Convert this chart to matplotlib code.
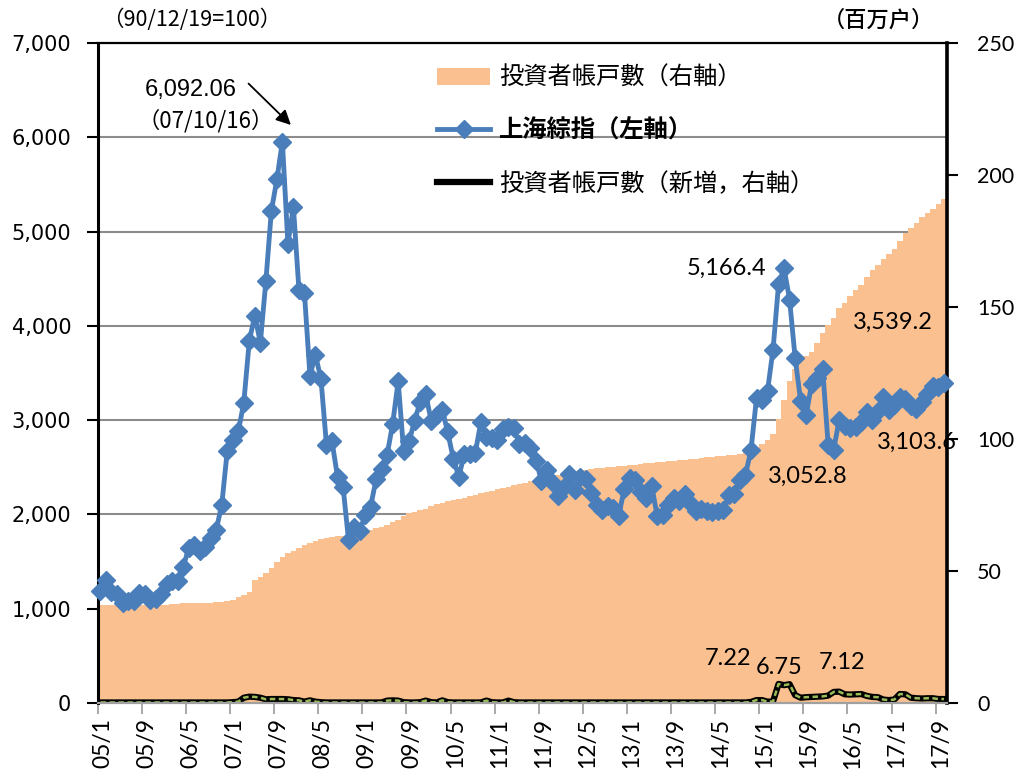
import numpy as np
import matplotlib.pyplot as plt
import matplotlib.transforms as mtransforms
from matplotlib.lines import Line2D
from matplotlib.patches import Patch
from matplotlib.ticker import FuncFormatter

CJK = ['Noto Sans CJK JP', 'DejaVu Sans']

# ---- monthly data, 2005/1 .. 2017/10 ----
# investor accounts, million (right axis)
accounts = [
    37.0, 37.0, 37.1, 37.1, 37.1, 37.1, 37.1, 37.1, 37.2, 37.2, 37.2, 37.3,
    37.3, 37.4, 37.5, 37.7, 37.8, 37.8, 37.9, 37.9, 38.0, 38.1, 38.2, 38.5,
    39.0, 40.0, 41.0, 42.0, 46.6, 47.8, 49.4, 51.0, 53.5, 55.4, 56.7, 57.7,
    58.8, 59.8, 60.5, 61.2, 62.0, 62.6, 63.0, 63.2, 63.4, 63.6, 63.8, 64.2,
    64.8, 65.5, 66.2, 66.8, 67.5, 68.5, 69.5, 71.0, 71.8, 72.3, 73.0, 73.6,
    74.5, 75.2, 75.8, 76.4, 76.9, 77.3, 77.8, 78.3, 78.9, 79.4, 79.9, 80.4,
    80.9, 81.4, 82.0, 82.5, 83.0, 83.5, 84.0, 84.5, 85.0, 85.5, 86.0, 86.5,
    87.0, 87.4, 87.8, 88.1, 88.4, 88.7, 88.9, 89.1, 89.3, 89.5, 89.7, 89.9,
    90.1, 90.3, 90.5, 90.8, 91.0, 91.2, 91.4, 91.6, 91.8, 92.0, 92.2, 92.4,
    92.6, 92.8, 93.0, 93.2, 93.4, 93.6, 93.8, 94.1, 94.5, 95.0, 95.8, 96.8,
    98.0, 99.5, 102.0, 107.5, 114.8, 122.0, 126.5, 130.0, 131.5, 133.0, 136.5, 140.0,
    143.0, 146.0, 149.5, 151.5, 154.0, 156.5, 158.5, 161.5, 164.0, 166.0, 168.0, 170.0,
    172.0, 175.0, 178.0, 180.0, 182.0, 184.0, 185.5, 187.0, 189.0, 191.0,
]

# new investor accounts, million (right axis)
new_accounts = [
    0.2, 0.2, 0.2, 0.2, 0.2, 0.2, 0.2, 0.2, 0.2, 0.2, 0.2, 0.2,
    0.2, 0.2, 0.2, 0.2, 0.2, 0.2, 0.2, 0.2, 0.2, 0.2, 0.2, 0.2,
    0.3, 0.5, 2.0, 2.4, 2.3, 2.0, 1.4, 1.5, 1.5, 1.5, 1.4, 1.1,
    1.0, 0.5, 1.0, 0.5, 0.3, 0.2, 0.2, 0.2, 0.2, 0.2, 0.2, 0.2,
    0.2, 0.2, 0.2, 0.2, 0.9, 1.0, 0.9, 0.3, 0.2, 0.2, 0.3, 0.9,
    0.3, 0.2, 1.0, 0.3, 0.2, 0.2, 0.2, 0.2, 0.2, 0.2, 0.9, 0.3,
    0.2, 0.2, 0.9, 0.3, 0.2, 0.2, 0.2, 0.2, 0.2, 0.2, 0.2, 0.2,
    0.2, 0.2, 0.2, 0.2, 0.2, 0.2, 0.2, 0.2, 0.2, 0.2, 0.2, 0.2,
    0.2, 0.2, 0.2, 0.2, 0.2, 0.2, 0.2, 0.2, 0.2, 0.2, 0.2, 0.2,
    0.2, 0.2, 0.2, 0.2, 0.2, 0.2, 0.2, 0.2, 0.2, 0.2, 0.4, 1.1,
    1.1, 0.5, 0.6, 7.22, 6.75, 7.12, 3.0, 2.0, 2.2, 2.3, 2.4, 2.5,
    2.8, 4.2, 4.3, 3.3, 3.2, 3.3, 3.4, 2.7, 2.3, 2.2, 1.3, 1.1,
    1.3, 3.4, 3.3, 2.0, 1.8, 1.7, 1.8, 1.8, 1.5, 1.5,
]

# Shanghai composite, month-end close (left axis)
sse_close = [
    1191.8, 1306.0, 1181.2, 1159.2, 1060.7, 1080.9, 1083.0, 1162.8, 1155.6, 1092.8, 1099.3, 1161.1,
    1258.0, 1299.0, 1298.3, 1440.2, 1641.3, 1672.2, 1612.7, 1658.6, 1752.4, 1837.9, 2099.3, 2675.5,
    2786.3, 2881.1, 3183.9, 3841.3, 4109.7, 3820.7, 4471.0, 5218.8, 5552.3, 5954.8, 4871.8, 5261.6,
    4383.4, 4348.5, 3472.7, 3693.1, 3433.4, 2736.1, 2775.7, 2397.4, 2293.8, 1728.8, 1871.2, 1820.8,
    1990.7, 2082.9, 2373.2, 2477.6, 2632.9, 2959.4, 3412.1, 2667.7, 2779.4, 2995.9, 3195.3, 3277.1,
    2989.3, 3051.9, 3109.1, 2870.6, 2592.1, 2398.4, 2637.5, 2638.8, 2655.7, 2978.8, 2820.2, 2808.1,
    2790.7, 2905.1, 2928.1, 2911.5, 2743.5, 2762.1, 2701.7, 2567.3, 2359.2, 2468.3, 2333.4, 2199.4,
    2292.6, 2428.5, 2262.8, 2396.3, 2372.2, 2225.4, 2103.6, 2047.5, 2086.2, 2068.9, 1980.1, 2269.1,
    2385.4, 2365.6, 2236.6, 2177.9, 2300.6, 1979.2, 1993.8, 2098.4, 2174.7, 2141.6, 2220.5, 2116.0,
    2033.1, 2056.3, 2033.3, 2026.4, 2039.2, 2048.3, 2201.6, 2217.2, 2363.9, 2420.2, 2682.8, 3234.7,
    3210.4, 3310.3, 3747.9, 4441.7, 4611.7, 4277.2, 3663.7, 3206.0, 3052.8, 3382.6, 3445.4, 3539.2,
    2737.6, 2688.0, 3003.9, 2938.3, 2916.6, 2929.6, 2979.3, 3085.5, 3004.7, 3100.5, 3250.0, 3103.6,
    3159.2, 3241.7, 3222.5, 3154.7, 3117.2, 3192.4, 3273.0, 3360.8, 3348.9, 3393.3,
]

tick_labels = ["05/1", "05/9", "06/5", "07/1", "07/9", "08/5", "09/1", "09/9", "10/5", "11/1",
               "11/9", "12/5", "13/1", "13/9", "14/5", "15/1", "15/9", "16/5", "17/1", "17/9"]

n = len(accounts)
month = np.arange(n)

fig = plt.figure(figsize=(10.33, 7.78), dpi=100)
ax = fig.add_axes([97.7 / 1033, 75 / 778, 849 / 1033, 660 / 778])

# left axis: scale, grid and ticks only
ax.set_xlim(0, n)
ax.set_ylim(0, 7000)
ax.set_yticks(np.arange(0, 7001, 1000))
ax.yaxis.set_major_formatter(FuncFormatter(lambda v, p: f"{v:,.0f}"))
ax.grid(axis='y', color='#8c8c8c', lw=1.5)
ax.set_xticks(month[::8])
ax.set_xticklabels(tick_labels, rotation=90, fontsize=16.5, family='Lato')
ax.tick_params(axis='x', length=8, width=1.2, color='#9a9a9a', pad=3)
ax.tick_params(axis='y', length=8, width=1.5, color='black', pad=11)
shift = mtransforms.ScaledTranslation(5 / 100, 0, fig.dpi_scale_trans)
for lab in ax.get_xticklabels():
    lab.set_transform(lab.get_transform() + shift)
for lab in ax.get_yticklabels():
    lab.set_fontfamily('DejaVu Sans')
    lab.set_fontsize(15)
for s in ax.spines.values():
    s.set_visible(False)

# right axis: accounts (area) and new accounts (line)
axr = ax.twinx()
axr.set_ylim(0, 250)
axr.set_yticks(range(0, 251, 50))
axr.tick_params(axis='y', length=8, width=1.5, color='black', pad=14)
for lab in axr.get_yticklabels():
    lab.set_fontfamily('Lato')
    lab.set_fontsize(15.5)
for s in axr.spines.values():
    s.set_visible(False)
axr.stairs(accounts, np.arange(n + 1), fill=True, color='#FAC090', lw=0)
axr.plot(month + 0.5, new_accounts, color='black', lw=4.5)
axr.plot(month + 0.5, new_accounts, color='#9BBB59', lw=1.8, ls=(0, (2.2, 1.4)))

# top layer: index line, frame, labels
axl = ax.twinx()
axl.set_ylim(0, 7000)
axl.set_yticks([])
axl.plot(month + 0.5, sse_close, color='#4A7EBB', lw=3.5, marker='D', ms=9,
         mec='#4A7EBB', clip_on=False, zorder=3)
axl.spines['left'].set_linewidth(2.2)
axl.spines['right'].set_linewidth(2.6)
axl.spines['top'].set_linewidth(1.6)
axl.spines['bottom'].set_color('#a0a0a0')
axl.spines['bottom'].set_linewidth(1.6)

axl.annotate("", xy=(35.4, 6110), xytext=(27.0, 6590),
             arrowprops=dict(arrowstyle='-|>', color='black', lw=1.3, mutation_scale=22))
axl.text(16.8, 6500, "6,092.06", ha='center', va='center', fontsize=17, family='Liberation Sans')
axl.text(19.6, 6173, "（07/10/16）", ha='center', va='center', fontsize=16, family=CJK)

num_font = dict(fontsize=17, family='Lato')
axl.text(121.2, 4614, "5,166.4", ha='right', va='center', **num_font)
axl.text(136.9, 4041, "3,539.2", ha='left', va='center', **num_font)
axl.text(121.5, 2406, "3,052.8", ha='left', va='center', **num_font)
axl.text(141.4, 2768, "3,103.6", ha='left', va='center', **num_font)

axr.text(114.4, 17.0, "7.22", ha='center', va='center', **num_font)
axr.text(123.6, 13.6, "6.75", ha='center', va='center', **num_font)
axr.text(135.1, 15.5, "7.12", ha='center', va='center', **num_font)

fig.text(192 / 1033, 1 - 20 / 778, "（90/12/19=100）", ha='center', va='center', fontsize=15.5, family=CJK)
fig.text(878 / 1033, 1 - 20 / 778, "（百万户）", ha='center', va='center', fontsize=16, family=CJK,
         fontweight='medium')

handles = [
    Patch(facecolor='#FAC090', edgecolor='none'),
    Line2D([], [], color='#4A7EBB', lw=3.5, marker='D', ms=9),
    Line2D([], [], color='black', lw=4.5),
]
labels = ["投資者帳戸數（右軸）", "上海綜指（左軸）", "投資者帳戸數（新増，右軸）"]
leg = fig.legend(handles, labels, loc='upper left', bbox_to_anchor=(437 / 1033, 1 - 65 / 778),
                 frameon=False, prop={'family': CJK, 'size': 17.5}, handlelength=2.2,
                 handletextpad=0.35, labelspacing=1.15, borderpad=0, borderaxespad=0)
leg.get_texts()[1].set_fontweight('bold')

fig.savefig('out.png', dpi=100)
